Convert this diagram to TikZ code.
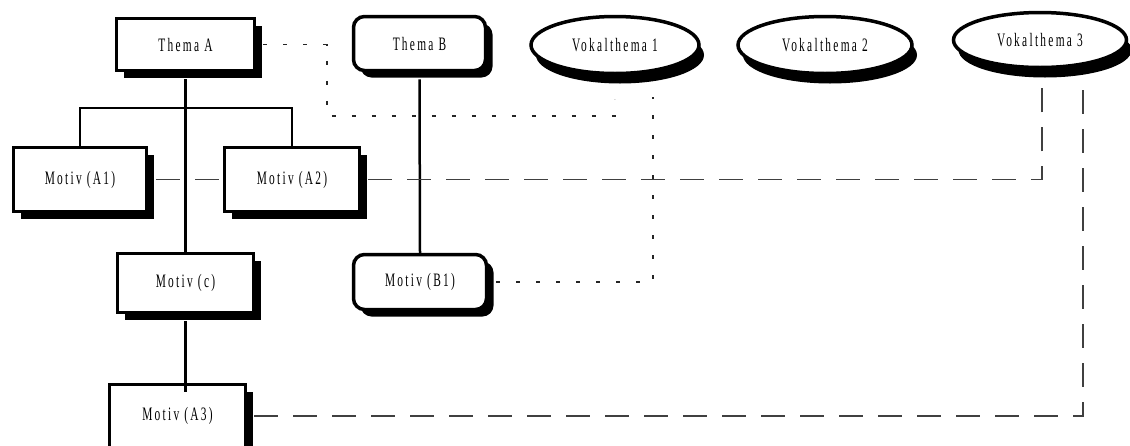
\documentclass[tikz,border=0pt]{standalone}
\usepackage{fontspec}
\setmainfont{Liberation Serif}[FakeStretch=0.6,LetterSpace=12]
\usetikzlibrary{shapes.geometric,shadows}
\begin{document}
\begin{tikzpicture}[x=1pt,y=-1pt,
  every node/.style={font=\fontsize{19}{22}\selectfont, inner sep=0pt},
  sbox/.style={draw, line width=3.5pt, fill=white, rectangle,
    drop shadow={shadow xshift=7pt, shadow yshift=-7pt, opacity=1, fill=black}},
  rbox/.style={sbox, rounded corners=11pt},
  vocal/.style={draw, line width=3.5pt, fill=white, ellipse,
    drop shadow={shadow xshift=5pt, shadow yshift=-10pt, opacity=1, fill=black}},
  tree/.style={line width=2.5pt},
  dotline/.style={line width=1.4pt, black!85, dash pattern=on 4pt off 16pt},
  dashline/.style={line width=1.6pt, black!75, dash pattern=on 24pt off 15pt}]
\useasboundingbox (0,0) rectangle (1130,445);
\clip (0,0) rectangle (1130,445);

% corner points of the orthogonal connectors
\coordinate (br) at (186,108);
\coordinate (k1) at (327,116);

% boxes
\node[sbox, minimum width=138pt, minimum height=52pt] (TA) at (185.5,44.5) {Thema A};
\node[rbox, minimum width=132pt, minimum height=54pt] (TB) at (419.5,43.5) {Thema B};
\node[vocal, minimum width=168pt, minimum height=57pt] (V1) at (615,45) {Vokalthema 1};
\node[vocal, minimum width=174pt, minimum height=57pt] (V2) at (825,45) {Vokalthema 2};
\node[vocal, minimum width=173pt, minimum height=55pt] (V3) at (1040,40) {Vokalthema 3};
\node[sbox, minimum width=133pt, minimum height=64pt] (A1) at (80,179.5) {Motiv (A1)};
\node[sbox, minimum width=135pt, minimum height=64pt] (A2) at (292,179.5) {Motiv (A2)};
\node[sbox, minimum width=136pt, minimum height=59pt] (C) at (185.5,283) {Motiv (c)};
\node[rbox, minimum width=133pt, minimum height=55pt] (B1) at (420,282) {Motiv (B1)};
\node[sbox, minimum width=136pt, minimum height=63pt] (A3) at (177.5,416) {Motiv (A3)};

% hierarchy
\draw[tree] ([yshift=-7pt]TA.south) -- (C.north);
\draw[tree] (A1.north) |- (br) -| (A2.north);
\draw[tree] ([yshift=-7pt]C.south) -- ([yshift=-9pt]C.south |- A3.north);
\draw[tree] ([yshift=-7pt]TB.south) -- (B1.north);

% dotted links to Vokalthema 1
\draw[dotline] ([xshift=7pt]TA.east) -| (k1) -| ([yshift=-24pt]V1.south);
\draw[dotline] ([xshift=8pt]B1.east) -| ([xshift=38pt,yshift=-22pt]V1.south);

% dashed links to Vokalthema 3
\draw[dashline] ([xshift=8pt]A1.east) -- (A2.west);
\draw[dashline] ([xshift=7pt]A2.east) -| ([xshift=2pt,yshift=-10pt]V3.south);
\draw[dashline] ([xshift=7pt]A3.east) -| ([xshift=43pt,yshift=-10pt]V3.south);
\end{tikzpicture}
\end{document}
